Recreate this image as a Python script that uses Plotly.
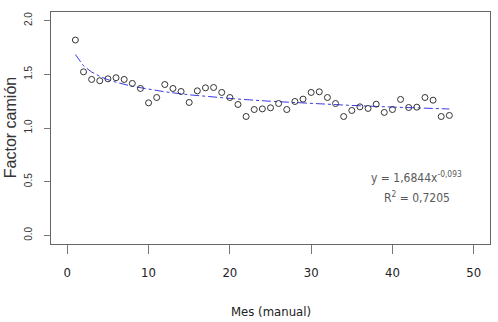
import plotly.graph_objects as go

mes = list(range(1, 48))
factor = [1.819, 1.523, 1.452, 1.440, 1.458, 1.468, 1.452, 1.415, 1.368, 1.234,
          1.284, 1.405, 1.368, 1.340, 1.238, 1.346, 1.374, 1.377, 1.331, 1.284,
          1.219, 1.107, 1.172, 1.178, 1.188, 1.228, 1.172, 1.247, 1.269, 1.331,
          1.337, 1.284, 1.228, 1.107, 1.163, 1.197, 1.182, 1.222, 1.145, 1.172,
          1.266, 1.191, 1.194, 1.284, 1.259, 1.107, 1.117]

trend_x = [1, 2, 3, 4, 5, 6, 8, 10, 12, 15, 18, 21, 25, 30, 35, 40, 47]
trend_y = [1.684, 1.579, 1.521, 1.481, 1.450, 1.426, 1.388, 1.360, 1.337, 1.309,
           1.287, 1.269, 1.249, 1.228, 1.210, 1.195, 1.177]

x_ticks = [0, 10, 20, 30, 40, 50]
y_ticks = [0.0, 0.5, 1.0, 1.5, 2.0]
y_tick_labels = ["0.0", "0.5", "1.0", "1.5", "2.0"]

NARROW = "DejaVu Sans Condensed, Liberation Sans Narrow, Arial Narrow, sans-serif"

fig = go.Figure()
fig.add_trace(go.Scatter(
    x=trend_x, y=trend_y, mode="lines",
    line=dict(color="#3a3ae8", width=1, dash="dashdot"),
    hoverinfo="skip", showlegend=False))
fig.add_trace(go.Scatter(
    x=mes, y=factor, mode="markers",
    marker=dict(symbol="circle-open", size=6, color="#333333", line=dict(width=1, color="#333333")),
    showlegend=False))

fig.update_layout(
    width=498, height=322,
    margin=dict(l=51, r=8, t=12, b=78),
    paper_bgcolor="white", plot_bgcolor="white",
    xaxis=dict(range=[-2, 52], tickvals=x_ticks, showgrid=False, zeroline=False,
               automargin=False,
               showline=True, mirror=True, linecolor="#666666", linewidth=1,
               ticks="outside", ticklen=9, tickcolor="#777777", tickwidth=1,
               ticklabelstandoff=7,
               tickfont=dict(family=NARROW, size=13, color="#222222")),
    yaxis=dict(range=[-0.08, 2.08], tickvals=y_ticks, ticktext=y_tick_labels,
               showgrid=False, zeroline=False, automargin=False,
               showline=True, mirror=True, linecolor="#666666", linewidth=1,
               ticks="outside", ticklen=6, tickcolor="#777777", tickwidth=1,
               tickangle=-90, ticklabelstandoff=8,
               tickfont=dict(family="Liberation Sans, Arial, sans-serif", size=10, color="#333333")),
    annotations=[
        dict(text="Mes (manual)", xref="paper", yref="paper", x=0.5, y=-0.29,
             xanchor="center", yanchor="middle", showarrow=False,
             font=dict(family=NARROW, size=13, color="#222222")),
        dict(text="Factor camión", xref="paper", yref="paper", x=-0.093, y=0.5,
             xanchor="center", yanchor="middle", showarrow=False, textangle=-90,
             font=dict(family="Liberation Sans, Arial, sans-serif", size=16, color="#333333")),
        dict(text="y = 1,6844x<sup>-0,093</sup>", xref="x", yref="y", x=43.0, y=0.54,
             xanchor="center", yanchor="middle", showarrow=False,
             font=dict(family=NARROW, size=12, color="#595959")),
        dict(text="R<sup>2</sup> = 0,7205", xref="x", yref="y", x=43.0, y=0.355,
             xanchor="center", yanchor="middle", showarrow=False,
             font=dict(family=NARROW, size=12, color="#595959")),
    ],
)

fig.write_html("out.html", config={"displayModeBar": False},
               post_script="document.body.style.margin='0';")
